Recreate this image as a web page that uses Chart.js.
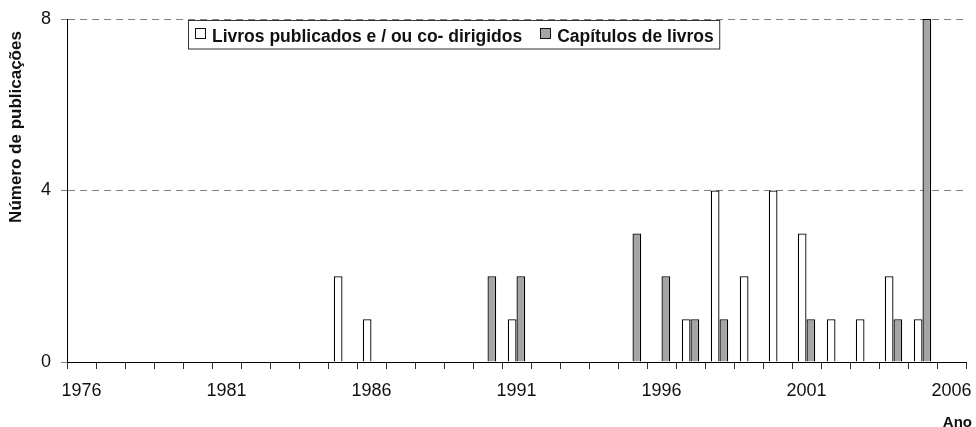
<!DOCTYPE html>
<html>
<head>
<meta charset="utf-8">
<script src="https://cdn.jsdelivr.net/npm/chart.js@4.4.1/dist/chart.umd.min.js"></script>
<style>
  html, body { margin: 0; padding: 0; background: #fff; }
  #wrap { width: 976px; height: 427px; position: relative; }
</style>
</head>
<body>
<div id="wrap"><canvas id="chart"></canvas></div>
<script>
// years on the x axis
const years = [];
for (let y = 1976; y <= 2006; y++) years.push(String(y));

// Livros publicados e / ou co- dirigidos
const livros = [0,0,0,0,0,0,0,0,0,2, 1,0,0,0,0,1,0,0,0,0, 0,1,4,2,4,3,1,1,2,1, 0];
// Capítulos de livros
const capitulos = [0,0,0,0,0,0,0,0,0,0, 0,0,0,0,2,2,0,0,0,3, 2,1,1,0,0,1,0,0,1,8, 0];

const seriesNames = ['Livros publicados e / ou co- dirigidos', 'Capítulos de livros'];
const yTicks = [0, 4, 8];
const yTitle = 'Número de publicações';
const xTitle = 'Ano';

const FONT = '"Liberation Sans", Arial, sans-serif';

// legend box + axis titles drawn on top
const extras = {
  id: 'extras',
  afterDraw(chart) {
    const ctx = chart.ctx;
    ctx.save();

    // legend
    ctx.font = 'bold 17.5px ' + FONT;
    ctx.textBaseline = 'alphabetic';
    const bx = 188.5, by = 20.5, bh = 28.5;
    const w1 = ctx.measureText(seriesNames[0]).width;
    const w2 = ctx.measureText(seriesNames[1]).width;
    const m1 = 195, t1 = 212;
    const m2 = t1 + w1 + 18, t2 = m2 + 17;
    const bw = t2 + w2 + 6 - bx;
    ctx.fillStyle = '#fff';
    ctx.fillRect(bx, by, bw, bh);
    ctx.strokeStyle = '#333';
    ctx.lineWidth = 1;
    ctx.strokeRect(bx, by, bw, bh);
    const ds = chart.data.datasets;
    [[m1, t1, 0], [m2, t2, 1]].forEach(([mx, tx, i]) => {
      ctx.fillStyle = ds[i].backgroundColor;
      ctx.fillRect(Math.round(mx) + 0.5, 28.5, 10, 10);
      ctx.strokeStyle = '#111';
      ctx.strokeRect(Math.round(mx) + 0.5, 28.5, 10, 10);
      ctx.fillStyle = '#111';
      ctx.fillText(seriesNames[i], tx, 41.5);
    });

    // y title
    ctx.font = 'bold 17px ' + FONT;
    ctx.fillStyle = '#111';
    ctx.textAlign = 'center';
    ctx.textBaseline = 'middle';
    ctx.translate(16, 127);
    ctx.rotate(-Math.PI / 2);
    ctx.fillText(yTitle, 0, 0);
    ctx.restore();

    // x title
    ctx.save();
    ctx.font = 'bold 15px ' + FONT;
    ctx.fillStyle = '#111';
    ctx.textAlign = 'right';
    ctx.textBaseline = 'alphabetic';
    ctx.fillText(xTitle, 972, 426.5);
    ctx.restore();
  }
};

new Chart(document.getElementById('chart'), {
  type: 'bar',
  data: {
    labels: years,
    datasets: [
      {
        label: seriesNames[0],
        data: livros,
        backgroundColor: '#ffffff',
        borderColor: '#000',
        borderWidth: 1.3,
        borderSkipped: 'start',
        categoryPercentage: 0.6,
        barPercentage: 1.0
      },
      {
        label: seriesNames[1],
        data: capitulos,
        backgroundColor: '#a5a5a5',
        borderColor: '#000',
        borderWidth: 1.3,
        borderSkipped: 'start',
        categoryPercentage: 0.6,
        barPercentage: 1.0
      }
    ]
  },
  options: {
    responsive: true,
    maintainAspectRatio: false,
    animation: false,
    layout: { padding: { top: 19, right: 10, left: 0, bottom: 0 } },
    plugins: {
      legend: { display: false },
      tooltip: { enabled: false }
    },
    scales: {
      x: {
        grid: {
          offset: true,
          drawOnChartArea: false,
          drawTicks: true,
          tickLength: 7,
          tickColor: '#333',
          color: '#333'
        },
        border: { display: true, color: '#000', width: 1 },
        ticks: {
          autoSkip: false,
          maxRotation: 0,
          minRotation: 0,
          padding: 11,
          color: '#111',
          font: { family: FONT, size: 18 },
          callback: (v, i) => ((1976 + i) % 5 === 1 ? years[i] : '')
        },
        afterFit: s => {
          s.height = 65;
          s.paddingLeft = 0;
          s.paddingRight = 0;
        }
      },
      y: {
        min: 0,
        max: 8,
        afterBuildTicks: s => { s.ticks = yTicks.map(v => ({ value: v })); },
        grid: {
          color: '#808080',
          tickColor: '#808080',
          tickLength: 6,
          lineWidth: 1
        },
        border: { display: true, color: '#000', width: 1, dash: [7, 5] },
        ticks: {
          padding: 10,
          color: '#111',
          font: { family: FONT, size: 18 }
        },
        afterFit: s => {
          s.width = 67;
          s.paddingTop = 0;
          s.paddingBottom = 0;
        }
      }
    }
  },
  plugins: [extras]
});
</script>
</body>
</html>
